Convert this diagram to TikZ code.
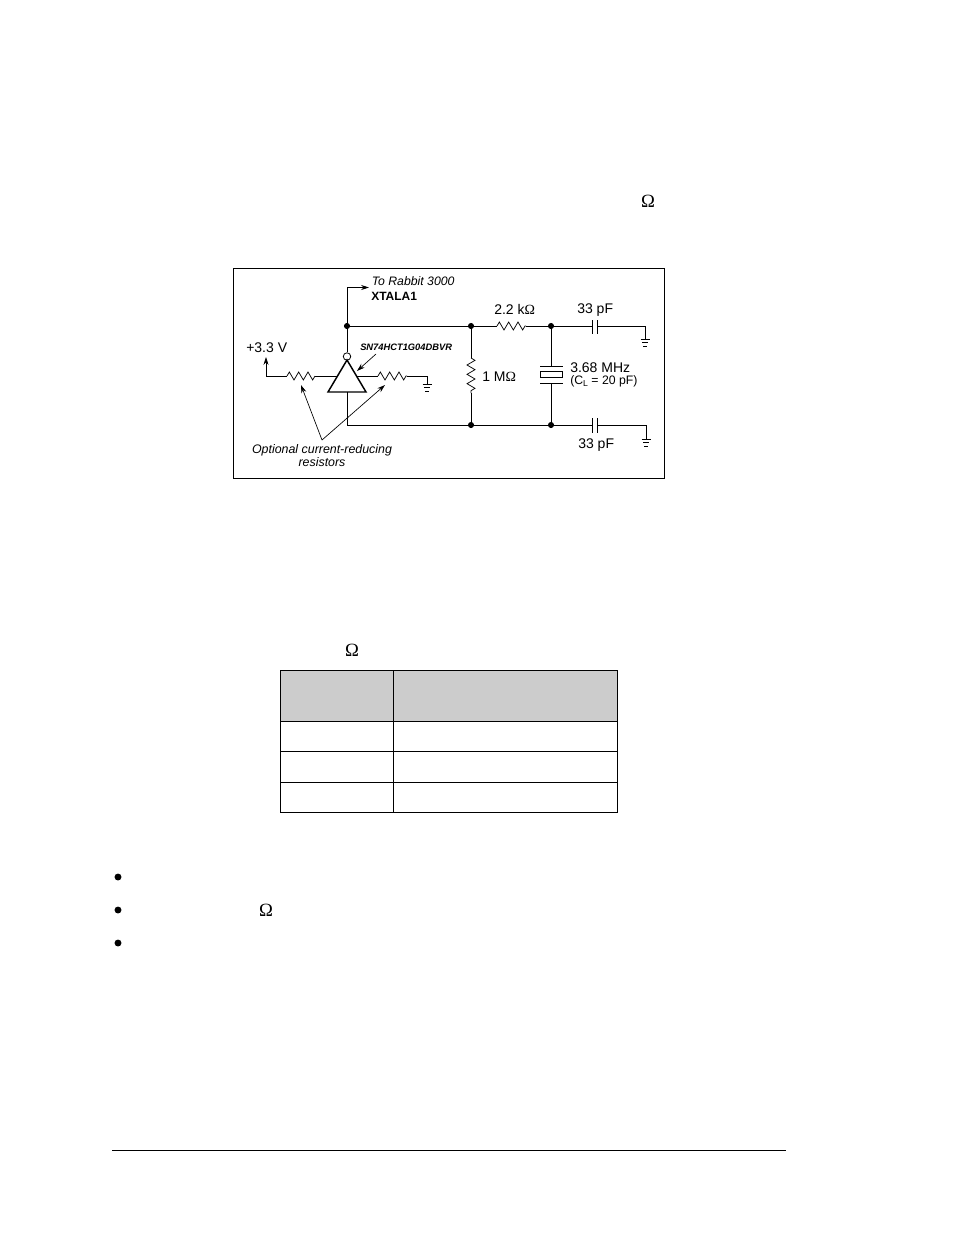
\documentclass[tikz,border=0pt]{standalone}
\usepackage{fontspec}
\setmainfont{Liberation Sans}
\newfontfamily\omfont{Liberation Serif}
\usepackage{tikz}
\usetikzlibrary{positioning,calc,arrows.meta,decorations.pathmorphing}

\newcommand{\ohm}{{\omfont Ω}}
\tikzset{
    wire/.style={line width=0.55pt},
    resist/.style={wire, decorate, decoration={zigzag, segment length=7pt, amplitude=3pt}},
    junc/.style={circle, fill=black, minimum size=4.6pt, inner sep=0pt},
    lbl/.style={inner sep=0pt, font=\fontsize{10.5pt}{12pt}\selectfont},
    note/.style={inner sep=0pt, font=\fontsize{9.2pt}{11pt}\selectfont},
    pointer/.style={line width=0.5pt, -{Stealth[length=6pt, width=3.8pt]}},
    plate/.style={line width=0.75pt},
    pagedot/.style={circle, fill=black, minimum size=5.2pt, inner sep=0pt},
    gnd/.pic={
        \draw[wire] (-4.5,0) -- (4.5,0);
        \draw[wire] (-3,3.5) -- (3,3.5);
        \draw[line width=0.7pt] (-1.8,7) -- (1.8,7);
    }
}

\begin{document}
\begin{tikzpicture}[x=0.75pt, y=-0.75pt]
    \useasboundingbox (0,0) rectangle (954,1235);

    % frame
    \draw[line width=0.7pt] (233.5,268) rectangle (664.5,478.5);

    % junctions
    \node[junc] (j1) at (347,326) {};
    \node[junc] (j2) at (471,326) {};
    \node[junc] (j3) at (551,326) {};
    \node[junc] (j4) at (471,425) {};
    \node[junc] (j5) at (551,425) {};

    % inverter
    \coordinate (apex) at (347,360);
    \coordinate (bl) at (328,392);
    \coordinate (br) at (366,392);
    \coordinate (foot) at (347,392);
    \coordinate (invl) at (337.5,376);
    \coordinate (invr) at (356.5,376);
    \node[circle, draw, line width=0.6pt, minimum size=5.6pt, inner sep=0pt] (bub) at (347,356.5) {};
    \draw[line width=1.1pt, line join=miter] (apex) -- (br) -- (bl) -- cycle;

    % output to the processor
    \coordinate (up) at (347,287.5);
    \coordinate (xt) at (369,287.5);
    \draw[wire] (bub) -- (j1);
    \draw[wire] (j1) -- (up);
    \draw[pointer] (up) -- (xt);
    \node[note, font=\fontsize{9.2pt}{11pt}\selectfont\itshape, anchor=west] (rabbit) at (371.5,281) {To Rabbit 3000};
    \node[anchor=west, inner sep=0pt, font=\fontsize{9pt}{11pt}\selectfont\bfseries] (xtala) at (371,296) {XTALA1};
    \node[anchor=west, inner sep=0pt, font=\fontsize{7pt}{9pt}\selectfont\bfseries\itshape] (part) at (360,347) {SN74HCT1G04DBVR};

    % main wires
    \coordinate (r1a) at (497,326);
    \coordinate (r1b) at (526,326);
    \coordinate (r2a) at (471,358);
    \coordinate (r2b) at (471,393);
    \draw[wire] (j1) -- (j2);
    \draw[wire] (j2) -- (r1a);
    \draw[resist] (r1a) -- (r1b);
    \draw[wire] (r1b) -- (j3);
    \draw[wire] (j2) -- (r2a);
    \draw[resist] (r2a) -- (r2b);
    \draw[wire] (r2b) -- (j4);
    \draw[wire] (foot) |- (j4);
    \draw[wire] (j4) -- (j5);

    % left resistor
    \coordinate (vcc) at (266,357);
    \coordinate (vccb) at (266,376);
    \coordinate (r3a) at (287,376);
    \coordinate (r3b) at (315,376);
    \draw[pointer] (vccb) -- (vcc);
    \draw[wire] (vccb) -- (r3a);
    \draw[resist] (r3a) -- (r3b);
    \draw[wire] (r3b) -- (invl);

    % right resistor
    \coordinate (r4a) at (378,376);
    \coordinate (r4b) at (407,376);
    \coordinate (g1) at (427,376);
    \coordinate (g1b) at (427,384);
    \draw[wire] (invr) -- (r4a);
    \draw[resist] (r4a) -- (r4b);
    \draw[wire] (r4b) -- (g1) -- (g1b);
    \pic at (g1b) {gnd};

    % crystal
    \coordinate (xa) at (551,366);
    \coordinate (xb) at (551,383);
    \draw[wire] (j3) -- (xa);
    \draw[wire] (xb) -- (j5);
    \draw[plate] (540,366) -- (563,366);
    \draw[plate] (540,383) -- (563,383);
    \node[draw, line width=0.75pt, minimum width=16.5pt, minimum height=3.8pt, inner sep=0pt] (xtal) at (551.5,374.5) {};

    % upper capacitor
    \coordinate (c1a) at (592,326);
    \coordinate (c1b) at (597,326);
    \coordinate (g2) at (645,326);
    \coordinate (g2b) at (645,339);
    \draw[wire] (j3) -- (c1a);
    \draw[plate] (592,320) -- (592,334);
    \draw[plate] (597,320) -- (597,334);
    \draw[wire] (c1b) -- (g2) -- (g2b);
    \pic at (g2b) {gnd};

    % lower capacitor
    \coordinate (c2a) at (592,425);
    \coordinate (c2b) at (597,425);
    \coordinate (g3) at (646,425);
    \coordinate (g3b) at (646,439);
    \draw[wire] (j5) -- (c2a);
    \draw[plate] (592,418) -- (592,433);
    \draw[plate] (597,418) -- (597,433);
    \draw[wire] (c2b) -- (g3) -- (g3b);
    \pic at (g3b) {gnd};

    % values
    \node[lbl, anchor=west] (vcclbl) at (246,348) {+3.3 V};
    \node[lbl, anchor=west] (r1lbl) at (494,309) {2.2 k\ohm};
    \node[lbl, anchor=west] (r2lbl) at (482,377) {1 M\ohm};
    \node[lbl, anchor=west] (c1lbl) at (577,310) {33 pF};
    \node[lbl, anchor=west] (c2lbl) at (578,445) {33 pF};
    \node[lbl, anchor=west] (xlbl) at (570,368) {3.68 MHz};
    \node[note, anchor=west] (cllbl) at (570,381) {(C\raisebox{-2pt}{\fontsize{6.5pt}{8pt}\selectfont L} = 20 pF)};

    % optional resistors
    \node[note, font=\fontsize{9.3pt}{11pt}\selectfont\itshape] (opt) at (322,450) {Optional current-reducing};
    \node[note, font=\fontsize{9.3pt}{11pt}\selectfont\itshape, below=1pt of opt] (res) {resistors};
    \coordinate (fork) at (322,440);
    \coordinate (t1) at (301,385);
    \coordinate (t2) at (385,385);
    \coordinate (t3) at (357,371);
    \coordinate (t3s) at (376,354);
    \draw[pointer] (fork) -- (t1);
    \draw[pointer] (fork) -- (t2);
    \draw[pointer] (t3s) -- (t3);

    % table
    \fill[black!20] (280.5,670.5) rectangle (617.5,721.5);
    \draw[line width=0.7pt] (280.5,670.5) rectangle (617.5,812);
    \draw[line width=0.7pt] (393,670.5) -- (393,812);
    \foreach \y in {721.5,751.5,782} {
        \draw[line width=0.7pt] (280.5,\y) -- (617.5,\y);
    }

    % loose symbols of the page
    \node[inner sep=0pt, font=\fontsize{14pt}{16pt}\omfont] (om1) at (648,201) {Ω};
    \node[inner sep=0pt, font=\fontsize{14pt}{16pt}\omfont] (om2) at (352,650) {Ω};
    \node[inner sep=0pt, font=\fontsize{14pt}{16pt}\omfont] (om3) at (266,910) {Ω};
    \node[pagedot] (b1) at (118,877) {};
    \node[pagedot] (b2) at (118,910) {};
    \node[pagedot] (b3) at (118,943) {};

    % page rule
    \draw[line width=0.7pt] (112,1150) -- (786,1150);
\end{tikzpicture}
\end{document}
